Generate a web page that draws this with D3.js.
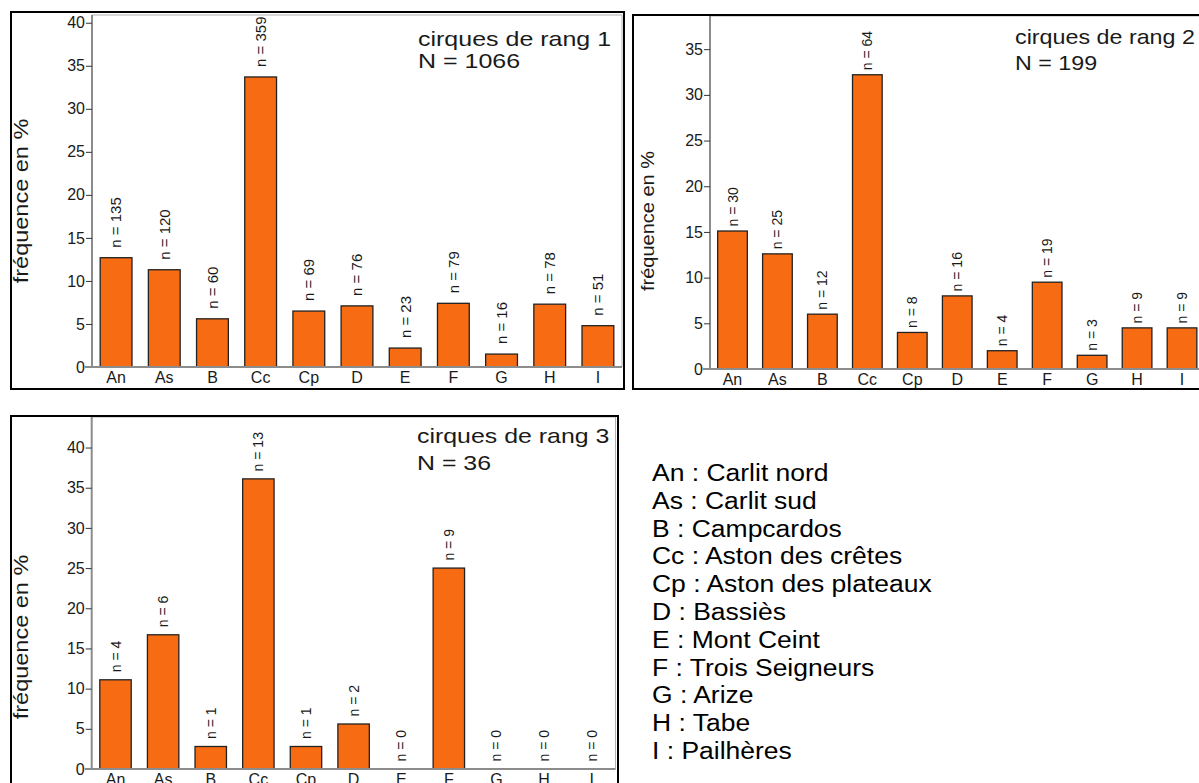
<!DOCTYPE html>
<html><head><meta charset="utf-8">
<script src="https://cdn.jsdelivr.net/npm/d3@7"></script>
<style>
body{margin:0;background:#fff;}
svg{display:block;font-family:"Liberation Sans",Arial,sans-serif;}
</style></head><body>
<svg id="chart" width="1199" height="783"></svg>
<script>
// ---- data ----
const categories = ["An","As","B","Cc","Cp","D","E","F","G","H","I"];
const yTickValues = [0,5,10,15,20,25,30,35,40];
const rang1Counts = [135,120,60,359,69,76,23,79,16,78,51];
const rang1Percent = [12.7,11.3,5.6,33.7,6.5,7.1,2.2,7.4,1.5,7.3,4.8];
const rang2Counts = [30,25,12,64,8,16,4,19,3,9,9];
const rang2Percent = [15.1,12.6,6.0,32.2,4.0,8.0,2.0,9.5,1.5,4.5,4.5];
const rang3Counts = [4,6,1,13,1,2,0,9,0,0,0];
const rang3Percent = [11.1,16.7,2.8,36.1,2.8,5.6,0,25.0,0,0,0];
const panelTitles = ["cirques de rang 1","cirques de rang 2","cirques de rang 3"];
const panelTotals = ["N = 1066","N = 199","N = 36"];
const yAxisTitle = "fréquence en %";
const legendNames = ["Carlit nord","Carlit sud","Campcardos","Aston des crêtes","Aston des plateaux","Bassiès","Mont Ceint","Trois Seigneurs","Arize","Tabe","Pailhères"];

// ---- layout ----
const panels = [
  {values: rang1Percent, counts: rang1Counts, title: panelTitles[0], total: panelTotals[0],
   box:{x0:11,y0:12,x1:624,y1:389}, plot:{left:92,right:622,top:15,bottom:367,topValue:40.9},
   titleX:418, titleY:46, totalY:68, titleFont:25, yTitleX:28, yTitleY:201, yTitleFont:23.5, nFont:15, nGap:10},
  {values: rang2Percent, counts: rang2Counts, title: panelTitles[1], total: panelTotals[1],
   box:{x0:633,y0:15,x1:1215,y1:389}, plot:{left:710,right:1204.5,top:16,bottom:369,topValue:38.63},
   titleX:1015, titleY:44, totalY:70, titleFont:23.3, yTitleX:654, yTitleY:221, yTitleFont:20, nFont:14, nGap:4.5},
  {values: rang3Percent, counts: rang3Counts, title: panelTitles[2], total: panelTotals[2],
   box:{x0:11,y0:416,x1:618,y1:800}, plot:{left:91.7,right:615.5,top:417,bottom:769,topValue:43.8},
   titleX:417, titleY:443, totalY:470, titleFont:24.9, yTitleX:28, yTitleY:637, yTitleFont:23.5, nFont:14, nGap:7.5}
];

const svg = d3.select("#chart");
const barFill = "#F76B12", barStroke = "#222", axisGrey = "#8c8c8c", textCol = "#1a1a1a";
const vScale = 0.84; // glyphs in titles are wider than tall

panels.forEach(p => {
  const g = svg.append("g");
  const x = d3.scaleBand().domain(categories).range([p.plot.left, p.plot.right])
    .paddingInner(0.34).paddingOuter(0.17);
  const y = d3.scaleLinear().domain([0, p.plot.topValue]).range([p.plot.bottom, p.plot.top]);

  // frame lines (top & right)
  g.append("path")
    .attr("d", `M${p.plot.left},${p.plot.top}H${p.plot.right}V${p.plot.bottom}`)
    .attr("fill","none").attr("stroke","#b0b0b0").attr("stroke-width",1);

  // bars
  const data = categories.map((c,i)=>({cat:c, v:p.values[i], n:p.counts[i]}));
  g.selectAll("rect.bar").data(data.filter(d=>d.v>0)).join("rect")
    .attr("class","bar")
    .attr("x", d=>x(d.cat)).attr("width", x.bandwidth())
    .attr("y", d=>y(d.v)).attr("height", d=>y(0)-y(d.v))
    .attr("fill", barFill).attr("stroke", barStroke).attr("stroke-width",1.3);

  // n labels
  g.selectAll("text.nlab").data(data).join("text")
    .attr("class","nlab")
    .attr("transform", d=>`translate(${x(d.cat)+x.bandwidth()/2+ p.nFont*0.36},${y(d.v)-p.nGap}) rotate(-90)`)
    .attr("font-size", p.nFont).attr("fill", textCol)
    .text(d=>`n = ${d.n}`);

  // y axis
  const yAxis = d3.axisLeft(y).tickValues(yTickValues.filter(t=>t<=p.plot.topValue)).tickSize(6).tickPadding(1);
  const ya = g.append("g").attr("transform",`translate(${p.plot.left},0)`).call(yAxis);
  ya.select(".domain").attr("stroke",axisGrey).attr("stroke-width",2)
    .attr("d",`M0,${p.plot.top}V${p.plot.bottom}`);
  ya.selectAll(".tick line").attr("stroke","#333").attr("stroke-width",1);
  ya.selectAll(".tick text").attr("font-size",16).attr("fill",textCol).attr("font-family","Liberation Sans, Arial, sans-serif");

  // x axis
  const xAxis = d3.axisBottom(x).tickSize(0).tickPadding(5);
  const xa = g.append("g").attr("transform",`translate(0,${p.plot.bottom})`).call(xAxis);
  xa.select(".domain").attr("stroke",axisGrey).attr("stroke-width",2)
    .attr("d",`M${p.plot.left-7},0H${p.plot.right}`);
  xa.selectAll(".tick text").attr("font-size",16).attr("fill",textCol).attr("font-family","Liberation Sans, Arial, sans-serif");

  // y title
  g.append("text")
    .attr("transform",`translate(${p.yTitleX},${p.yTitleY}) rotate(-90) scale(1,0.88)`)
    .attr("text-anchor","middle").attr("font-size",p.yTitleFont).attr("fill",textCol)
    .text(yAxisTitle);

  // titles
  g.append("text").attr("transform",`translate(${p.titleX},${p.titleY}) scale(1,${vScale})`)
    .attr("font-size",p.titleFont).attr("fill",textCol).text(p.title);
  g.append("text").attr("transform",`translate(${p.titleX},${p.totalY}) scale(1,${vScale})`)
    .attr("font-size",p.titleFont).attr("fill",textCol).text(p.total);

  // border
  g.append("rect").attr("x",p.box.x0).attr("y",p.box.y0)
    .attr("width",p.box.x1-p.box.x0).attr("height",p.box.y1-p.box.y0)
    .attr("fill","none").attr("stroke","#000").attr("stroke-width",2);
});

// legend
const legend = svg.append("g");
legend.selectAll("text").data(categories).join("text")
  .attr("transform",(d,i)=>`translate(652,${481+i*27.8}) scale(1,0.9)`)
  .attr("font-size",26.5).attr("fill","#000")
  .text((d,i)=>`${d} : ${legendNames[i]}`);
</script>
</body></html>
